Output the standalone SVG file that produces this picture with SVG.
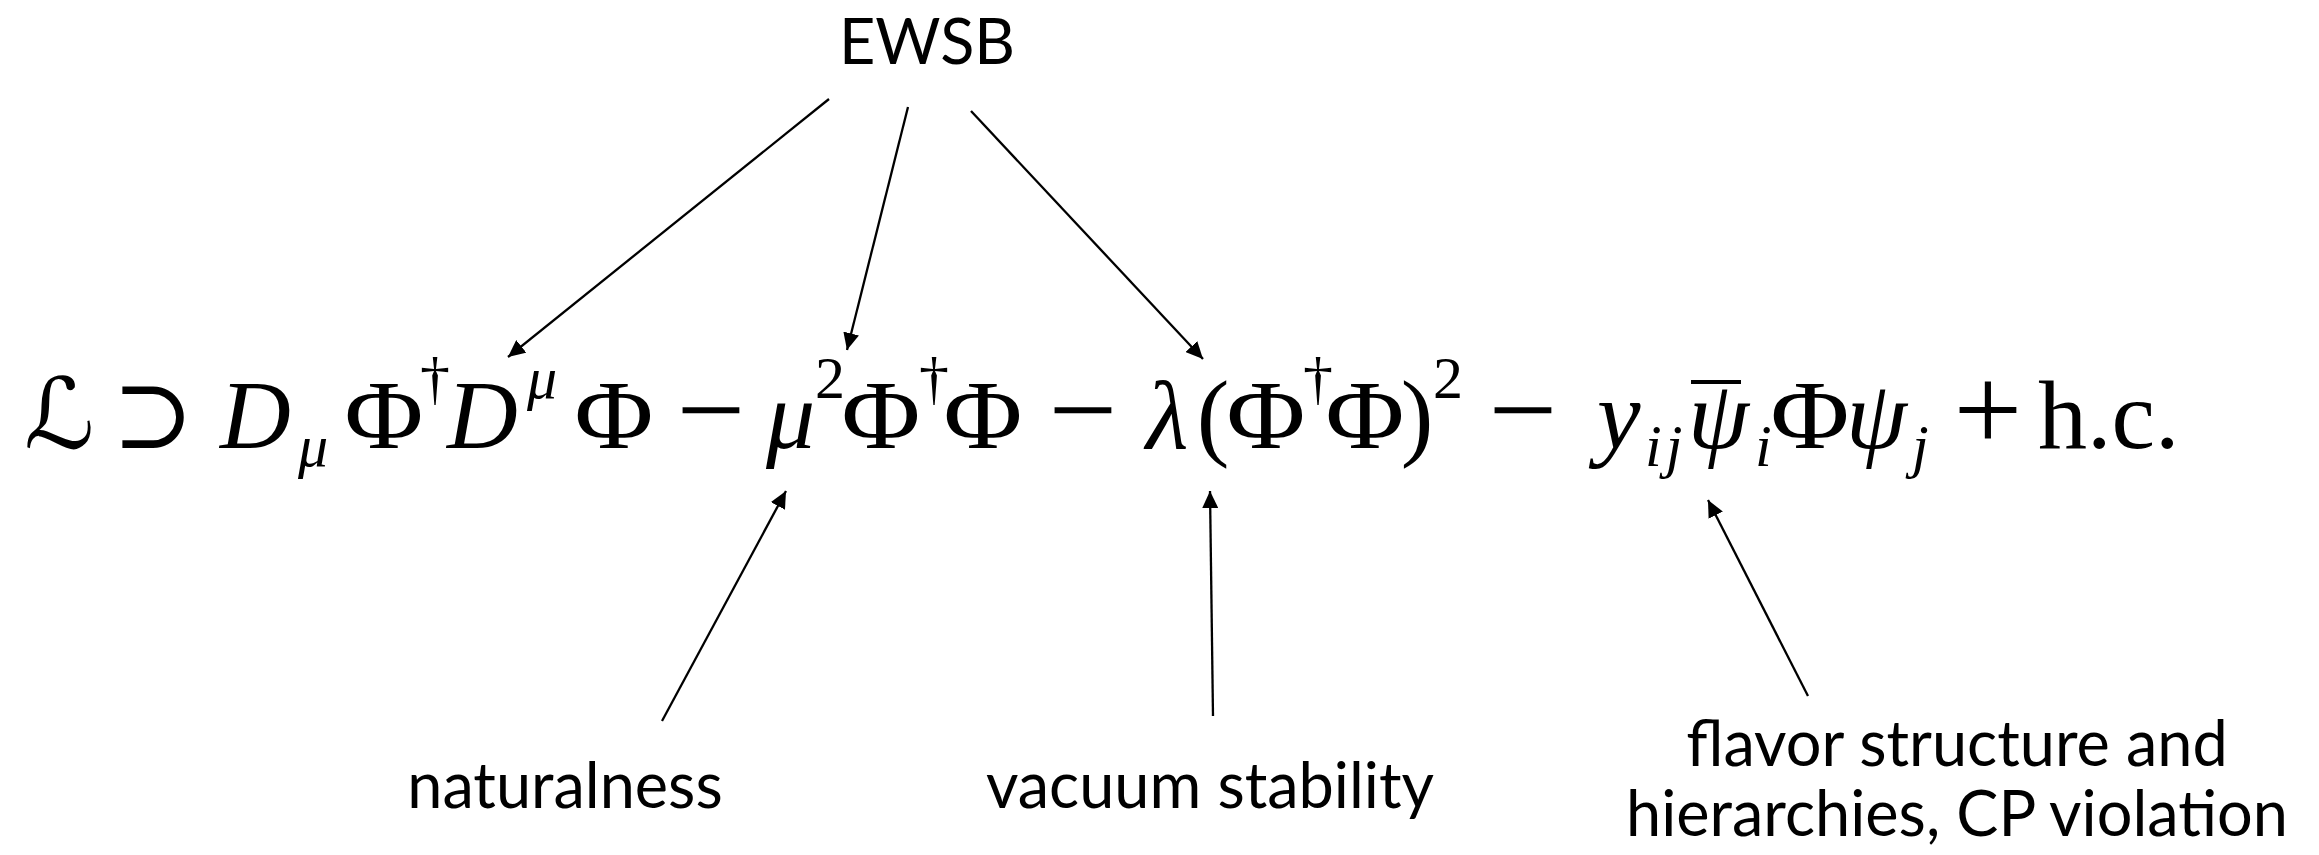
<svg xmlns="http://www.w3.org/2000/svg" width="2319" height="855" viewBox="0 0 2319 855">
<style>
.lbl{font-family:Lato,"Open Sans","DejaVu Sans",sans-serif;font-size:63px;fill:#000;text-anchor:middle}
.m{font-family:"Liberation Serif","DejaVu Serif",serif;font-size:98px;fill:#000}
.i{font-style:italic}
.s{font-size:60px}
.c{text-anchor:middle}
.op{font-size:122px;text-anchor:middle}
.cal{font-family:"DejaVu Serif","DejaVu Sans",serif;font-style:italic}
.con{stroke:#000;stroke-width:2.3;fill:none;marker-end:url(#ah)}
</style>
<defs>
<marker id="ah" markerUnits="userSpaceOnUse" markerWidth="18" markerHeight="16" refX="17" refY="8" orient="auto">
<path d="M0,0 L17,8 L0,16 Z" fill="#000"/>
</marker>
</defs>
<rect width="2319" height="855" fill="#fff"/>
<g id="ewsb"><text class="lbl" x="927" y="64">EWSB</text></g>
<g id="equation">
<g id="term-lhs">
<text class="m cal" x="24" y="448">ℒ</text>
<text class="m c" x="153" y="448">⊃</text>
</g>
<g id="term-kinetic">
<text class="m i" x="220" y="448">D</text>
<text class="m i s" x="298" y="466">μ</text>
<text class="m c" transform="translate(384,448) scale(1.1,1)">Φ</text>
<text class="m s c" x="435" y="398">†</text>
<text class="m i" x="447" y="448">D</text>
<text class="m i s" x="527" y="398">μ</text>
<text class="m c" transform="translate(614,448) scale(1.1,1)">Φ</text>
</g>
<text class="m op" x="711" y="451">−</text>
<g id="term-mass">
<text class="m i" x="766" y="448">μ</text>
<text class="m s c" x="830" y="398">2</text>
<text class="m c" transform="translate(881,448) scale(1.1,1)">Φ</text>
<text class="m s c" x="934" y="398">†</text>
<text class="m c" transform="translate(983,448) scale(1.1,1)">Φ</text>
</g>
<text class="m op" x="1083" y="451">−</text>
<g id="term-quartic">
<text class="m i" x="1146" y="448">λ</text>
<text class="m c" x="1213" y="448">(</text>
<text class="m c" transform="translate(1266,448) scale(1.1,1)">Φ</text>
<text class="m s c" x="1318" y="398">†</text>
<text class="m c" transform="translate(1365,448) scale(1.1,1)">Φ</text>
<text class="m c" x="1417" y="448">)</text>
<text class="m s c" x="1448" y="398">2</text>
</g>
<text class="m op" x="1523" y="451">−</text>
<g id="term-yukawa">
<text class="m i" x="1597" y="448">y</text>
<text class="m i s" x="1645" y="466" letter-spacing="4">ij</text>
<text class="m i" x="1688" y="448">ψ</text>
<line x1="1691" y1="382" x2="1741" y2="382" stroke="#000" stroke-width="4"/>
<text class="m i s" x="1755" y="466">i</text>
<text class="m c" transform="translate(1810,448) scale(1.1,1)">Φ</text>
<text class="m i" x="1846" y="448">ψ</text>
<text class="m i s" x="1912" y="466">j</text>
</g>
<text class="m op" x="1988" y="451">+</text>
<text class="m" x="2038" y="448">h.c.</text>
</g>
<g id="naturalness"><text class="lbl" x="565" y="808">naturalness</text></g>
<g id="vacuum-stability"><text class="lbl" x="1210" y="808">vacuum stability</text></g>
<g id="flavor"><text class="lbl" x="1957" y="766">flavor structure and</text><text class="lbl" x="1957" y="836">hierarchies, CP violation</text></g>
<g id="connectors">
<line class="con" x1="829" y1="99" x2="508" y2="357"/>
<line class="con" x1="908" y1="107" x2="847" y2="350"/>
<line class="con" x1="971" y1="111" x2="1203" y2="359"/>
<line class="con" x1="662" y1="721" x2="786" y2="491"/>
<line class="con" x1="1213" y1="716" x2="1210" y2="491"/>
<line class="con" x1="1808" y1="696" x2="1708" y2="500"/>
</g>
</svg>
